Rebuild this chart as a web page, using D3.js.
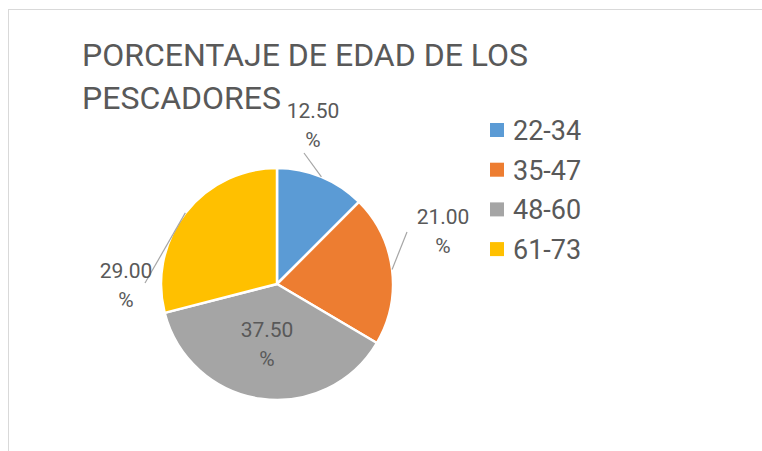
<!DOCTYPE html>
<html lang="es">
<head>
  <meta charset="UTF-8">
  <title>Porcentaje de edad de los pescadores</title>
  <style>
    body {
      margin: 0;
      padding: 0;
      background-color: #ffffff;
      font-family: Roboto, "Liberation Sans", Arial, sans-serif;
    }
    svg text {
      fill: #595959;
    }
  </style>
</head>
<body>
  <svg id="chart"></svg>

  <script src="https://d3js.org/d3.v7.min.js"></script>
  <script>
    const categories = ["22-34", "35-47", "48-60", "61-73"];
    const values = [12.5, 21.0, 37.5, 29.0];
    const valueLabels = ["12.50", "21.00", "37.50", "29.00"];
    const titleLines = ["PORCENTAJE DE EDAD DE LOS", "PESCADORES"];

    const width = 762;
    const height = 451;
    const colors = ["#5B9BD5", "#ED7D31", "#A5A5A5", "#FFC000"];

    const cx = 277, cy = 284, radius = 116;

    // where Excel put each label (offset of first line baseline from the pie centre)
    // and where the leader line ends; null = label inside, no leader
    const labelOffset = [[36, -166], [166, -60], [-10, 53], [-151, -6]];
    const leaderEnd = [[27, -131], [130, -52], null, [-132, -1]];

    const svg = d3.select("#chart").attr("width", width).attr("height", height);

    // chart area border
    svg.append("rect")
      .attr("x", 8.5).attr("y", 9.5)
      .attr("width", width + 20).attr("height", height + 20)
      .attr("fill", "none")
      .attr("stroke", "#d9d9d9")
      .attr("stroke-width", 1);

    svg.selectAll(".title")
      .data(titleLines)
      .enter().append("text")
      .attr("class", "title")
      .attr("x", 82)
      .attr("y", (d, i) => 66 + i * 43)
      .style("font-size", "32px")
      .text(d => d);

    const pie = d3.pie().sort(null).value(d => d);
    const arcs = pie(values);
    const arc = d3.arc().innerRadius(0).outerRadius(radius);
    const edgeArc = d3.arc().innerRadius(radius).outerRadius(radius);

    const g = svg.append("g").attr("transform", `translate(${cx},${cy})`);

    g.selectAll("path.slice")
      .data(arcs)
      .enter().append("path")
      .attr("class", "slice")
      .attr("d", arc)
      .attr("fill", (d, i) => colors[i])
      .attr("stroke", "#ffffff")
      .attr("stroke-width", 2.5)
      .attr("stroke-linejoin", "round");

    // leader lines
    g.selectAll("line.leader")
      .data(arcs.filter((d, i) => leaderEnd[i]))
      .enter().append("line")
      .attr("class", "leader")
      .attr("x1", d => edgeArc.centroid(d)[0])
      .attr("y1", d => edgeArc.centroid(d)[1])
      .attr("x2", d => leaderEnd[d.index][0])
      .attr("y2", d => leaderEnd[d.index][1])
      .attr("stroke", "#a6a6a6")
      .attr("stroke-width", 1.2);

    // data labels, value on first line, % on second
    const labels = g.selectAll("text.label")
      .data(arcs)
      .enter().append("text")
      .attr("class", "label")
      .attr("text-anchor", "middle")
      .style("font-size", "21px");

    labels.append("tspan")
      .attr("x", d => labelOffset[d.index][0])
      .attr("y", d => labelOffset[d.index][1])
      .text(d => valueLabels[d.index]);

    labels.append("tspan")
      .attr("x", d => labelOffset[d.index][0])
      .attr("y", d => labelOffset[d.index][1] + 29)
      .text("%");

    // legend
    const legend = svg.append("g").attr("transform", "translate(490,123)");
    const rows = legend.selectAll("g")
      .data(categories)
      .enter().append("g")
      .attr("transform", (d, i) => `translate(0,${i * 39.7})`);

    rows.append("rect")
      .attr("width", 14).attr("height", 14)
      .attr("fill", (d, i) => colors[i]);

    rows.append("text")
      .attr("x", 23)
      .attr("y", 17)
      .style("font-size", "27px")
      .text(d => d);
  </script>
</body>
</html>
